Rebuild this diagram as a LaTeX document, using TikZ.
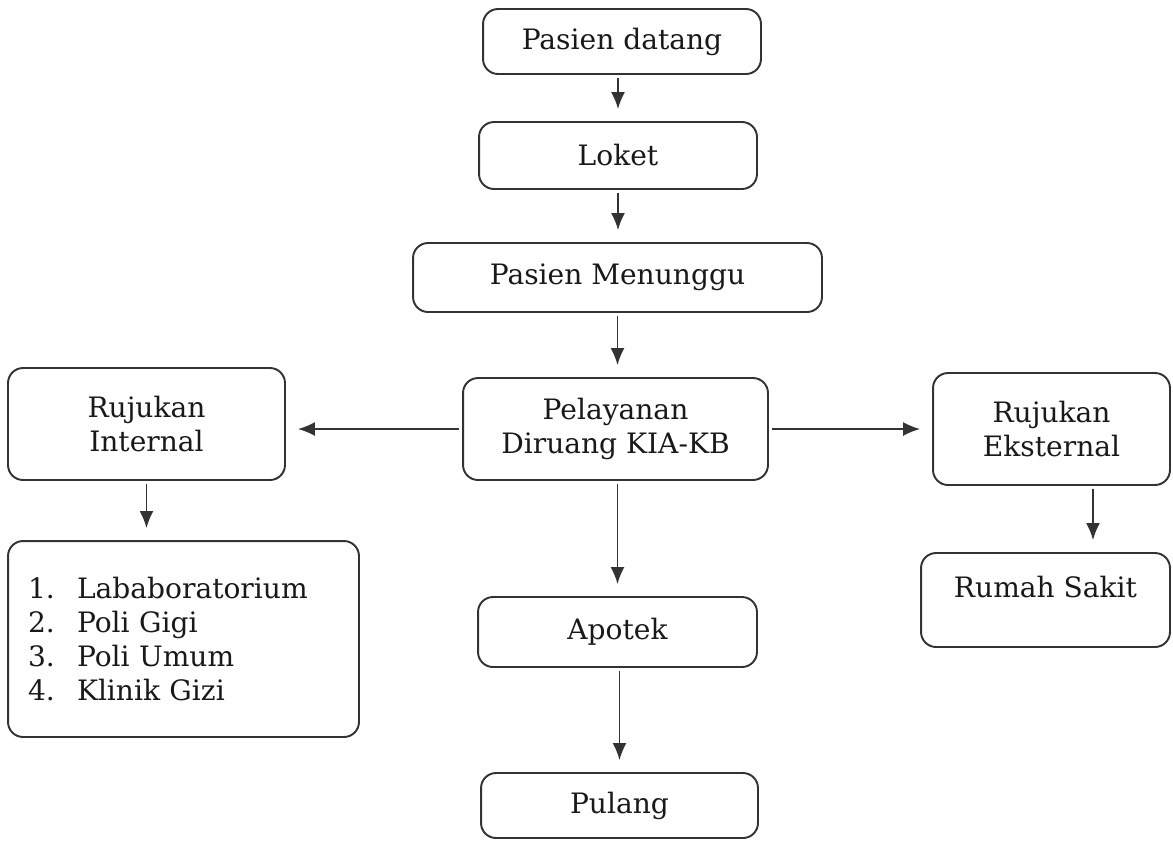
\documentclass[tikz,border=0pt]{standalone}
\usepackage{fontspec}
\setmainfont{DejaVu Serif}
\usetikzlibrary{arrows.meta}
\newcommand{\nomor}[1]{\makebox[0.98cm][l]{#1}}

\begin{document}
\begin{tikzpicture}[x=0.02cm,y=-0.02cm,
  kotak/.style={draw=black!80, line width=1.1pt, rounded corners=0.3cm, align=center, text=black!90, font=\fontsize{16pt}{19.5pt}\selectfont},
  panah/.style={draw=black!80, line width=1pt, >={Latex[length=0.34cm,width=0.28cm]}, ->, shorten >=0.24cm, shorten <=0.06cm}]

\useasboundingbox (0,0) rectangle (1173,840);

\node[kotak, minimum width=5.56cm, minimum height=1.3cm] (datang) at (622,41.5) {Pasien datang};
\node[kotak, minimum width=5.56cm, minimum height=1.34cm] (loket) at (618,155.5) {Loket};
\node[kotak, minimum width=8.18cm, minimum height=1.38cm] (tunggu) at (617.5,277.5) {Pasien Menunggu};
\node[kotak, minimum width=6.1cm, minimum height=2.04cm] (layan) at (615.5,429) {Pelayanan\\Diruang KIA-KB};

%%%%%%%%%%%%%%%

\node[kotak, minimum width=5.54cm, minimum height=2.24cm] (intern) at (146.5,424) {Rujukan\\Internal};
\node[kotak, align=left, text width=6.22cm, inner xsep=0.4cm, minimum height=3.92cm] (daftar) at (183.5,639)
  {\nomor{1.}Lababoratorium\\\nomor{2.}Poli Gigi\\\nomor{3.}Poli Umum\\\nomor{4.}Klinik Gizi};

\node[kotak, minimum width=4.74cm, minimum height=2.24cm] (ekstern) at (1051.5,429) {Rujukan\\Eksternal};
\node[kotak, minimum width=4.98cm, minimum height=1.88cm, text depth=15pt] (rs) at (1045.5,600) {Rumah Sakit};

\node[kotak, minimum width=5.58cm, minimum height=1.4cm] (apotek) at (617.5,632) {Apotek};
\node[kotak, minimum width=5.54cm, minimum height=1.3cm] (pulang) at (619.5,805.5) {Pulang};

%%%%%%%%%%%%%%%

\draw[panah] (datang.south -| loket) -- (loket.north);
\draw[panah] (loket.south) -- (loket.south |- tunggu.north);
\draw[panah] (tunggu.south) -- (tunggu.south |- layan.north);

\draw[panah] (layan.west) -- (layan.west -| intern.east);
\draw[panah] (layan.east) -- (layan.east -| ekstern.west);

\draw[panah] (intern.south) -- (intern.south |- daftar.north);
\coordinate (rsmasuk) at ([xshift=0.83cm]ekstern.south |- rs.north);
\draw[panah] ([xshift=0.83cm]ekstern.south) -- (rsmasuk);

\draw[panah] (layan.south -| apotek) -- (apotek.north);
\draw[panah] (apotek.south -| pulang) -- (pulang.north);

\end{tikzpicture}
\end{document}
